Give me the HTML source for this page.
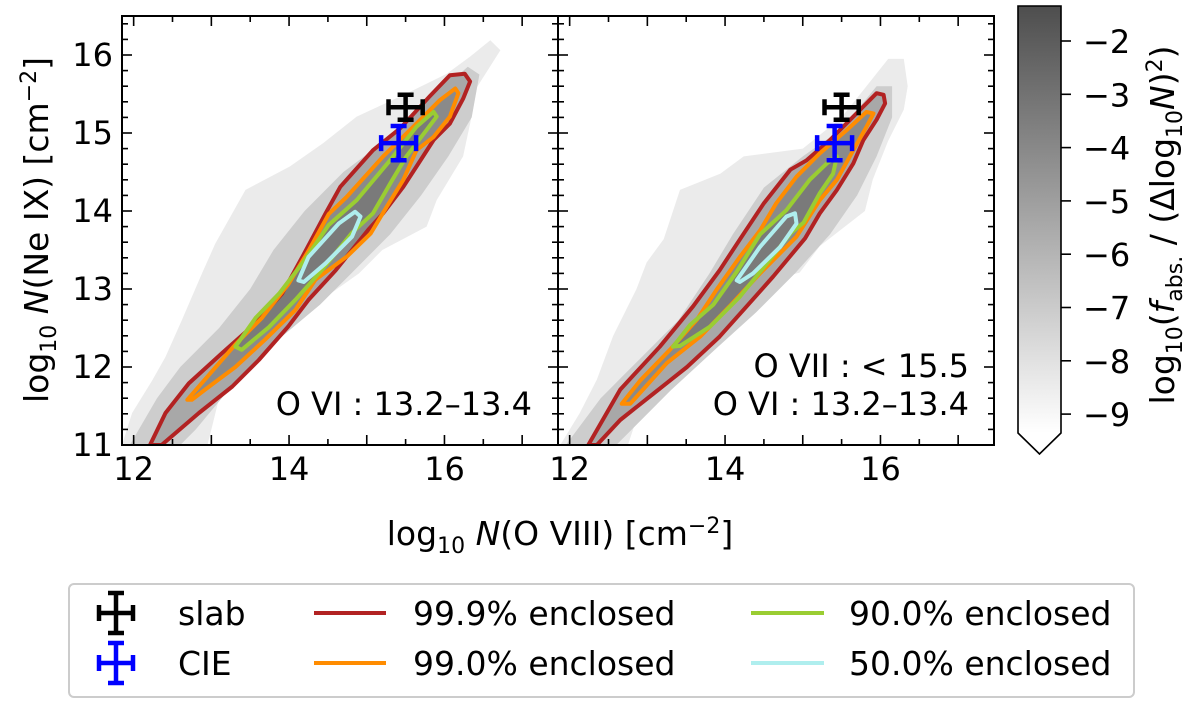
<!DOCTYPE html>
<html><head><meta charset="utf-8"><style>
body{margin:0;background:#fff;}
svg{display:block;font-family:"DejaVu Sans","Liberation Sans",sans-serif;}
</style></head><body>
<svg id="fig" width="1200" height="701" viewBox="0 0 1200 701" xmlns="http://www.w3.org/2000/svg">
<defs>
<clipPath id="clipL"><rect x="122" y="16" width="436" height="429"/></clipPath>
<clipPath id="clipR"><rect x="558" y="16" width="437" height="429"/></clipPath>
<linearGradient id="cbg" x1="0" y1="0" x2="0" y2="1">
<stop offset="0" stop-color="#4e4e4e"/><stop offset="0.5" stop-color="#a6a6a6"/><stop offset="1" stop-color="#ffffff"/>
</linearGradient>
</defs>
<g id="panelL"></g>
<g id="panelR"></g>
<g id="axes"></g>
<g>
<text x="532" y="415" font-size="32" text-anchor="end">O VI : 13.2–13.4</text>
</g>
<g>
<text x="969" y="377" font-size="32" text-anchor="end">O VII : &lt; 15.5</text>
<text x="969" y="415" font-size="32" text-anchor="end">O VI : 13.2–13.4</text>
</g>
<text transform="translate(48,230) rotate(-90)" font-size="33" text-anchor="middle">log<tspan font-size="22" dy="8">10</tspan><tspan dy="-8" font-style="italic"> N</tspan>(Ne IX) [cm<tspan font-size="22" dy="-12">−2</tspan><tspan dy="12">]</tspan></text>
<text x="560" y="545" font-size="33" text-anchor="middle">log<tspan font-size="22" dy="8">10</tspan><tspan dy="-8" font-style="italic"> N</tspan>(O VIII) [cm<tspan font-size="22" dy="-12">−2</tspan><tspan dy="12">]</tspan></text>
<g id="cbar">
<rect x="1018" y="6" width="43" height="427" fill="url(#cbg)"/>
<path d="M1018,6 H1061 V433 L1039.5,454 L1018,433 Z" fill="none" stroke="#000" stroke-width="1.6"/>
<text transform="translate(1174,225) rotate(-90)" font-size="33" text-anchor="middle">log<tspan font-size="22" dy="8">10</tspan><tspan dy="-8">(</tspan><tspan font-style="italic">f</tspan><tspan font-size="22" dy="8">abs.</tspan><tspan dy="-8"> / (Δlog</tspan><tspan font-size="22" dy="8">10</tspan><tspan dy="-8" font-style="italic">N</tspan>)<tspan font-size="22" dy="-12">2</tspan><tspan dy="12">)</tspan></text>
</g>
<g>
<rect x="69" y="584" width="1065" height="113" rx="5" fill="#fff" stroke="#cccccc" stroke-width="2"/>
<g id="legSlab"></g>
<g id="legCIE"></g>
<text x="178" y="625" font-size="33">slab</text>
<text x="178" y="675" font-size="33">CIE</text>
<line x1="314" y1="613" x2="386" y2="613" stroke="#b22222" stroke-width="4"/>
<text x="413" y="625" font-size="33">99.9% enclosed</text>
<line x1="314" y1="663" x2="386" y2="663" stroke="#ff8c00" stroke-width="4"/>
<text x="413" y="675" font-size="33">99.0% enclosed</text>
<line x1="751" y1="613" x2="824" y2="613" stroke="#9acd32" stroke-width="4"/>
<text x="849" y="625" font-size="33">90.0% enclosed</text>
<line x1="751" y1="663" x2="824" y2="663" stroke="#afeeee" stroke-width="4"/>
<text x="849" y="675" font-size="33">50.0% enclosed</text>
</g>
</svg>
<script>
// ---- data ----
const xTickLabels = [12,14,16];
const yTicksMajor = [11,12,13,14,15,16];
const cbTicks = [-2,-3,-4,-5,-6,-7,-8,-9];
// observed points: [x, y, xerr, yerr]
const slabPoint = [15.5, 15.33, 0.22, 0.16];
const ciePoint = [15.41, 14.87, 0.225, 0.22];
// left panel
const L_outer = [[11.85,11.0],[11.98,11.41],[12.24,11.83],[12.41,12.13],[12.62,12.6],[12.88,13.2],[13.05,13.58],[13.44,14.27],[14.01,14.57],[14.44,14.87],[14.87,15.21],[15.5,15.5],[16.03,15.76],[16.33,15.98],[16.59,16.19],[16.72,16.06],[16.42,15.59],[16.33,15.12],[16.24,14.70],[15.90,14.14],[15.77,13.80],[15.2,13.5],[14.9,13.2],[14.42,12.86],[13.9,12.5],[13.44,12.1],[13.1,11.6],[12.95,11.0]];
const L_mid = [[11.95,11],[12.3,11.6],[12.6,12.0],[13.1,12.5],[13.5,13.0],[13.8,13.5],[14.2,14.0],[14.7,14.5],[15.3,14.95],[15.9,15.5],[16.3,15.85],[16.45,15.75],[16.35,15.2],[16.05,14.7],[15.7,14.2],[15.3,13.7],[14.9,13.3],[14.4,12.8],[13.8,12.3],[13.3,11.8],[12.8,11.2],[12.6,11]];
const L_red = [[12.21,11.0],[12.41,11.41],[12.71,11.79],[13.14,12.18],[13.57,12.56],[13.91,12.94],[14.17,13.41],[14.47,13.97],[14.66,14.31],[15.08,14.78],[15.43,15.06],[15.81,15.47],[16.07,15.74],[16.26,15.76],[16.33,15.66],[16.24,15.44],[16.07,15.12],[15.86,14.91],[15.64,14.57],[15.47,14.31],[15.21,13.97],[15.02,13.76],[14.6,13.24],[14.25,12.86],[13.99,12.52],[13.61,12.09],[13.27,11.75],[12.84,11.41],[12.36,11.0]];
const L_orange = [[12.69,11.58],[12.97,11.90],[13.31,12.29],[13.65,12.63],[13.99,13.06],[14.25,13.49],[14.51,13.96],[14.74,14.18],[15.21,14.70],[15.64,15.12],[15.94,15.42],[16.14,15.57],[16.18,15.51],[16.07,15.21],[15.86,14.95],[15.64,14.78],[15.47,14.40],[15.26,14.06],[15.05,13.71],[14.75,13.42],[14.34,13.12],[14.08,12.73],[13.69,12.35],[13.31,12.0],[12.92,11.71],[12.75,11.58]];
const L_green = [[13.31,12.26],[13.57,12.63],[13.87,12.94],[14.17,13.33],[14.51,13.82],[14.87,14.14],[15.30,14.65],[15.64,15.08],[15.86,15.27],[15.90,15.21],[15.77,15.04],[15.51,14.70],[15.30,14.35],[15.08,13.97],[14.81,13.72],[14.42,13.24],[14.08,12.86],[13.74,12.51],[13.39,12.22]];
const L_cyan = [[14.12,13.11],[14.25,13.41],[14.64,13.84],[14.85,13.99],[14.92,13.93],[14.81,13.67],[14.47,13.33],[14.19,13.09]];
// right panel
const R_outer = [[11.88,11.0],[12.13,11.41],[12.35,11.84],[12.56,12.4],[12.86,13.0],[12.99,13.34],[13.21,13.64],[13.42,14.27],[13.94,14.48],[14.24,14.7],[15.0,14.8],[15.5,15.2],[15.9,15.7],[16.1,15.95],[16.3,15.95],[16.35,15.6],[16.3,15.3],[16.1,14.9],[15.9,14.4],[15.8,14.0],[15.22,13.55],[14.96,13.21],[14.62,13.12],[14.19,12.99],[13.93,12.69],[13.68,12.35],[13.29,12.0],[12.95,11.6],[12.75,11.0]];
const R_mid = [[11.95,11],[12.4,11.6],[12.9,12.1],[13.4,12.6],[13.8,13.2],[14.1,13.7],[14.5,14.3],[15.0,14.7],[15.5,15.05],[15.95,15.6],[16.15,15.6],[16.15,15.2],[15.95,14.7],[15.7,14.2],[15.35,13.7],[14.9,13.2],[14.4,12.7],[13.9,12.25],[13.3,11.7],[12.6,11]];
const R_red = [[12.24,11.0],[12.65,11.71],[13.16,12.26],[13.59,12.78],[13.93,13.24],[14.2,13.65],[14.5,14.1],[14.84,14.53],[15.05,14.65],[15.35,14.91],[15.69,15.25],[15.95,15.51],[16.04,15.49],[16.06,15.38],[15.95,15.17],[15.78,14.91],[15.65,14.61],[15.44,14.27],[15.22,13.97],[15.03,13.65],[14.62,13.16],[14.28,12.78],[13.93,12.39],[13.51,12.0],[13.08,11.66],[12.65,11.32],[12.35,11.0]];
const R_orange = [[12.67,11.53],[12.91,11.83],[13.29,12.22],[13.64,12.61],[13.89,12.99],[14.19,13.41],[14.45,13.75],[14.66,14.10],[14.92,14.44],[15.22,14.74],[15.57,15.04],[15.82,15.27],[15.91,15.25],[15.82,15.08],[15.65,14.78],[15.44,14.40],[15.22,14.14],[14.92,13.67],[14.45,13.20],[14.06,12.78],[13.68,12.39],[13.25,12.05],[12.78,11.53]];
const R_green = [[13.33,12.26],[13.55,12.54],[13.85,12.80],[14.15,13.22],[14.45,13.70],[14.79,14.01],[15.09,14.40],[15.31,14.61],[15.44,14.70],[15.39,14.48],[15.22,14.23],[15.01,13.85],[14.85,13.72],[14.54,13.33],[14.19,12.90],[13.81,12.52],[13.42,12.27]];
const R_cyan = [[14.15,13.11],[14.45,13.54],[14.79,13.93],[14.9,13.97],[14.92,13.84],[14.71,13.54],[14.36,13.2],[14.19,13.09]];

// ---- scales ----
const XMIN = 11.85, XPX = 77.7, YPX = 78;
const panels = {L:{x0:122}, R:{x0:558}};
const sx = (p,x)=> panels[p].x0 + (x - XMIN)*XPX;
const sy = y => 445 - (y - 11)*YPX;
const cby = v => 41 + (-2 - v)*53.3;
const NS = 'http://www.w3.org/2000/svg';
function mk(tag, attrs, parent){const e=document.createElementNS(NS,tag);for(const k in attrs)e.setAttribute(k,attrs[k]);parent.appendChild(e);return e;}
function poly(p, pts){return pts.map(q=>sx(p,q[0]).toFixed(1)+','+sy(q[1]).toFixed(1)).join(' ');}

function drawPanel(p, id, sets){
  const g = document.getElementById(id);
  const c = mk('g',{'clip-path':'url(#clip'+p+')'},g);
  const fills = [['outer','#ebebeb'],['mid','#cdcdcd'],['red','#a8a8a8'],['orange','#8a8a8a'],['green','#7a7a7a']];
  fills.forEach(f=>{
    const e = mk('polygon',{points:poly(p,sets[f[0]]),fill:f[1],stroke:'none'},c);
    
    
  });
  const lines = [['red','#b22222'],['orange','#ff8c00'],['green','#9acd32'],['cyan','#afeeee']];
  lines.forEach(l=>{
    const e = mk('polygon',{points:poly(p,sets[l[0]]),fill:'none',stroke:l[1],'stroke-width':4,'stroke-linejoin':'round'},c);
    
    
  });
  drawErr(c, sx(p,slabPoint[0]), sy(slabPoint[1]), slabPoint[2]*XPX, slabPoint[3]*YPX, '#000', 'slab-point-'+p);
  drawErr(c, sx(p,ciePoint[0]), sy(ciePoint[1]), ciePoint[2]*XPX, ciePoint[3]*YPX, '#0000ff', 'cie-point-'+p);
}
function drawErr(parent, cx, cy, ex, ey, col, name){
  const g = mk('g',{stroke:col,'stroke-width':4.5},parent);
  
  
  mk('line',{x1:cx-ex,y1:cy,x2:cx+ex,y2:cy},g);
  mk('line',{x1:cx,y1:cy-ey,x2:cx,y2:cy+ey},g);
  mk('line',{x1:cx-ex,y1:cy-8,x2:cx-ex,y2:cy+8},g);
  mk('line',{x1:cx+ex,y1:cy-8,x2:cx+ex,y2:cy+8},g);
  mk('line',{x1:cx-8,y1:cy-ey,x2:cx+8,y2:cy-ey},g);
  mk('line',{x1:cx-8,y1:cy+ey,x2:cx+8,y2:cy+ey},g);
}
drawPanel('L','panelL',{outer:L_outer,mid:L_mid,red:L_red,orange:L_orange,green:L_green,cyan:L_cyan});
drawPanel('R','panelR',{outer:R_outer,mid:R_mid,red:R_red,orange:R_orange,green:R_green,cyan:R_cyan});

// axes frames and ticks
const ax = document.getElementById('axes');
['L','R'].forEach(p=>{
  const x0 = panels[p].x0, x1 = x0+436;
  const fr = mk('rect',{x:x0,y:16,width:436,height:429,fill:'none',stroke:'#000','stroke-width':2},ax);
  
  
  const tg = mk('g',{stroke:'#000','stroke-width':1.6},ax);
  for(let v=12; v<=17.4; v+=0.5){
    const X = sx(p,v); const L = (Math.abs(v-Math.round(v))<1e-6)?10:6;
    mk('line',{x1:X,y1:445,x2:X,y2:445-L},tg);
    mk('line',{x1:X,y1:16,x2:X,y2:16+L},tg);
  }
  for(let i=0;i<=27;i++){
    const v = 11 + i*0.2; const Y = sy(v); const L = (i%5===0)?10:6;
    mk('line',{x1:x0,y1:Y,x2:x0+L,y2:Y},tg);
    mk('line',{x1:x1,y1:Y,x2:x1-L,y2:Y},tg);
  }
  xTickLabels.forEach(v=>{
    const t = mk('text',{x:sx(p,v),y:480,'font-size':32,'text-anchor':'middle'},ax);
    t.textContent = v;
    
    
  });
});
yTicksMajor.forEach(v=>{
  const t = mk('text',{x:113,y:sy(v)+11,'font-size':32,'text-anchor':'end'},ax);
  t.textContent = v;
  
  
});
// colorbar ticks
const cb = document.getElementById('cbar');
cbTicks.forEach(v=>{
  const Y = cby(v);
  mk('line',{x1:1061,y1:Y,x2:1071,y2:Y,stroke:'#000','stroke-width':1.6},cb);
  const t = mk('text',{x:1083,y:Y+12,'font-size':32},cb);
  t.textContent = '−'+Math.abs(v);
  
  
});
// legend markers
drawErr(document.getElementById('legSlab'),116,613,17,20,'#000','legend-marker-slab');
drawErr(document.getElementById('legCIE'),116,663,17,20,'#0000ff','legend-marker-cie');
</script>
</body></html>
